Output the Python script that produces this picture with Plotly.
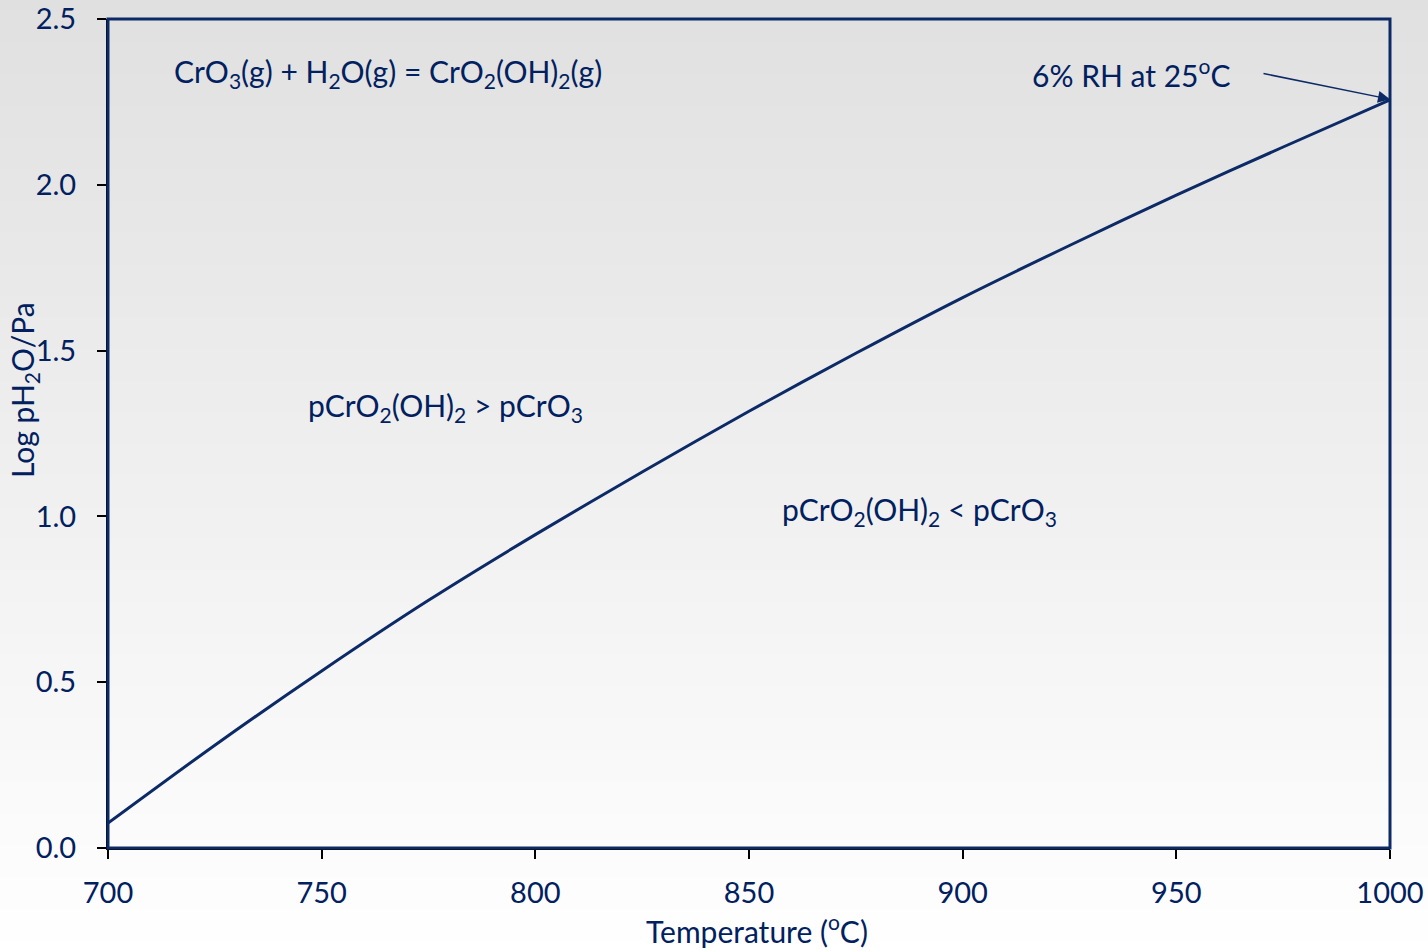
import plotly.graph_objects as go

# Data
temperature_c = [700, 725, 750, 775, 800, 825, 850, 875, 900, 925, 950, 975, 1000]
log_ph2o_pa = [0.075, 0.31, 0.534, 0.747, 0.945, 1.134, 1.317, 1.492, 1.66, 1.817, 1.969, 2.114, 2.256]

x_ticks = [700, 750, 800, 850, 900, 950, 1000]
y_ticks = [0.0, 0.5, 1.0, 1.5, 2.0, 2.5]
y_tick_labels = ["0.0", "0.5", "1.0", "1.5", "2.0", "2.5"]

NAVY = "#002060"
LINE = "#0c2a66"
FONT = "Lato"
FS = 30
TFS = 29

W, H = 1428, 951
ML, MR, MT, MB = 108, 38, 19, 103
PW, PH = W - ML - MR, H - MT - MB

fig = go.Figure()
fig.add_trace(go.Scatter(
    x=temperature_c, y=log_ph2o_pa, mode="lines",
    line=dict(color=LINE, width=3, shape="spline", smoothing=0.8),
    hoverinfo="skip", showlegend=False, cliponaxis=True,
))

shapes = []
# background vertical gradient (grey at top to white at bottom)
n = 90
y_bot = -MB / PH
y_top = 1 + MT / PH
for i in range(n):
    f0 = i / n
    f1 = (i + 1) / n
    yb = y_bot + (y_top - y_bot) * f0
    yt = y_bot + (y_top - y_bot) * f1 + 0.002
    frac_from_bottom = (f0 + f1) / 2
    g = int(round(255 - 31 * frac_from_bottom))
    shapes.append(dict(type="rect", xref="paper", yref="paper",
                       x0=-ML / PW - 0.01, x1=1 + MR / PW + 0.01, y0=yb, y1=yt,
                       fillcolor=f"rgb({g},{g},{g})", line=dict(width=0),
                       layer="below"))
# plot frame
shapes.append(dict(type="rect", xref="paper", yref="paper", x0=0, x1=1, y0=0, y1=1,
                   line=dict(color=LINE, width=3), layer="above"))

annotations = [
    dict(x=765.5, y=2.337, xref="x", yref="y", showarrow=False,
         xanchor="center", yanchor="middle",
         text="CrO<sub>3</sub>(g) + H<sub>2</sub>O(g) = CrO<sub>2</sub>(OH)<sub>2</sub>(g)",
         font=dict(family=FONT, size=FS, color=NAVY)),
    dict(x=939.4, y=2.337, xref="x", yref="y", showarrow=False,
         xanchor="center", yanchor="middle",
         text="6% RH at 25<sup>o</sup>C",
         font=dict(family=FONT, size=FS, color=NAVY)),
    dict(x=1000, y=2.258, xref="x", yref="y", showarrow=True, text="",
         ax=-128, ay=-26, arrowhead=2, arrowsize=1.6, arrowwidth=1.5,
         arrowcolor=LINE, standoff=0),
    dict(x=778.9, y=1.33, xref="x", yref="y", showarrow=False,
         xanchor="center", yanchor="middle",
         text="pCrO<sub>2</sub>(OH)<sub>2</sub> &gt; pCrO<sub>3</sub>",
         font=dict(family=FONT, size=FS, color=NAVY)),
    dict(x=890, y=1.016, xref="x", yref="y", showarrow=False,
         xanchor="center", yanchor="middle",
         text="pCrO<sub>2</sub>(OH)<sub>2</sub> &lt; pCrO<sub>3</sub>",
         font=dict(family=FONT, size=FS, color=NAVY)),
    dict(x=(757 - ML) / PW, y=(848 - 929) / PH, xref="paper", yref="paper",
         xanchor="center", yanchor="middle",
         showarrow=False, text="Temperature (<sup>o</sup>C)",
         font=dict(family=FONT, size=FS, color=NAVY)),
    dict(x=(24 - ML) / PW, y=(848 - 390) / PH, xref="paper", yref="paper",
         xanchor="center", yanchor="middle",
         showarrow=False, textangle=-90, text="Log pH<sub>2</sub>O/Pa",
         font=dict(family=FONT, size=FS, color=NAVY)),
]

fig.update_layout(
    width=W, height=H,
    margin=dict(l=ML, r=MR, t=MT, b=MB, pad=0, autoexpand=False),
    paper_bgcolor="white", plot_bgcolor="rgba(0,0,0,0)",
    shapes=shapes, annotations=annotations, showlegend=False,
    font=dict(family=FONT, size=FS, color=NAVY),
)
fig.update_xaxes(range=[700, 1000], tickvals=x_ticks, ticks="outside", ticklen=9,
                 tickcolor="black", tickwidth=1.5, showline=True, linecolor="black",
                 linewidth=2, showgrid=False, zeroline=False, ticklabelstandoff=9,
                 automargin=False,
                 tickfont=dict(family=FONT, size=TFS, color=NAVY))
fig.update_yaxes(range=[0, 2.5], tickvals=y_ticks, ticktext=y_tick_labels,
                 ticks="outside", ticklen=9, tickcolor="black", tickwidth=1.5,
                 showline=True, linecolor="black", linewidth=2, showgrid=False,
                 zeroline=False, ticklabelstandoff=15, automargin=False,
                 tickfont=dict(family=FONT, size=TFS, color=NAVY))

fig.write_html("out.html", config={"displayModeBar": False},
               post_script="document.body.style.margin='0';")
